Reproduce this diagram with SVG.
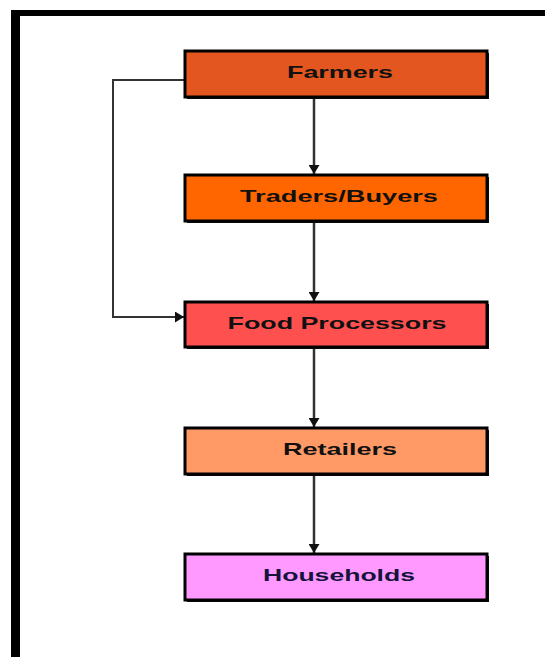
<svg xmlns="http://www.w3.org/2000/svg" width="545" height="657" viewBox="0 0 545 657">
  <style>
    .box { stroke: #000; stroke-width: 3; }
    .shadow { fill: #111; }
    .label { font-family: "Liberation Sans", Arial, sans-serif; font-size: 17px; font-weight: bold; text-anchor: middle; fill: #111; }
    .link { fill: none; stroke: #333; stroke-width: 2.5; }
    .bypass { fill: none; stroke: #333; stroke-width: 2; }
  </style>
  <defs>
    <marker id="arrow" viewBox="0 0 9 11" refX="9" refY="5.5" markerWidth="9" markerHeight="11" markerUnits="userSpaceOnUse" orient="auto">
      <path d="M0,0 L9,5.5 L0,11 Z" fill="#111"/>
    </marker>
  </defs>

  <rect width="545" height="657" fill="#fff"/>

  <!-- outer frame -->
  <g id="frame" fill="#000">
    <rect x="11" y="10" width="534" height="6"/>
    <rect x="11" y="10" width="9" height="647"/>
  </g>

  <!-- connectors -->
  <g id="connectors">
    <line class="link" x1="314" y1="99" x2="314" y2="174" marker-end="url(#arrow)"/>
    <line class="link" x1="314" y1="223" x2="314" y2="301" marker-end="url(#arrow)"/>
    <line class="link" x1="314" y1="349" x2="314" y2="427" marker-end="url(#arrow)"/>
    <line class="link" x1="314" y1="476" x2="314" y2="553" marker-end="url(#arrow)"/>
    <path class="bypass" d="M185,80 H113 V317 H184" marker-end="url(#arrow)"/>
  </g>

  <g id="farmers">
    <rect class="shadow" x="187" y="53" width="302" height="46"/>
    <rect class="box" x="185" y="51" width="302" height="46" fill="#E3561F"/>
    <text class="label" x="340" y="78" textLength="106" lengthAdjust="spacingAndGlyphs">Farmers</text>
  </g>

  <g id="traders">
    <rect class="shadow" x="187" y="177" width="302" height="46"/>
    <rect class="box" x="185" y="175" width="302" height="46" fill="#FF6600"/>
    <text class="label" x="339" y="202" textLength="198" lengthAdjust="spacingAndGlyphs">Traders/Buyers</text>
  </g>

  <g id="food-processors">
    <rect class="shadow" x="187" y="304" width="302" height="45"/>
    <rect class="box" x="185" y="302" width="302" height="45" fill="#FF5050"/>
    <text class="label" x="337" y="329" textLength="219" lengthAdjust="spacingAndGlyphs">Food Processors</text>
  </g>

  <g id="retailers">
    <rect class="shadow" x="187" y="430" width="302" height="46"/>
    <rect class="box" x="185" y="428" width="302" height="46" fill="#FF9966"/>
    <text class="label" x="340" y="455" textLength="114" lengthAdjust="spacingAndGlyphs">Retailers</text>
  </g>

  <g id="households">
    <rect class="shadow" x="187" y="556" width="302" height="46"/>
    <rect class="box" x="185" y="554" width="302" height="46" fill="#FF99FF"/>
    <text class="label" x="339" y="581" textLength="152" lengthAdjust="spacingAndGlyphs" style="fill:#14143c">Households</text>
  </g>
</svg>
